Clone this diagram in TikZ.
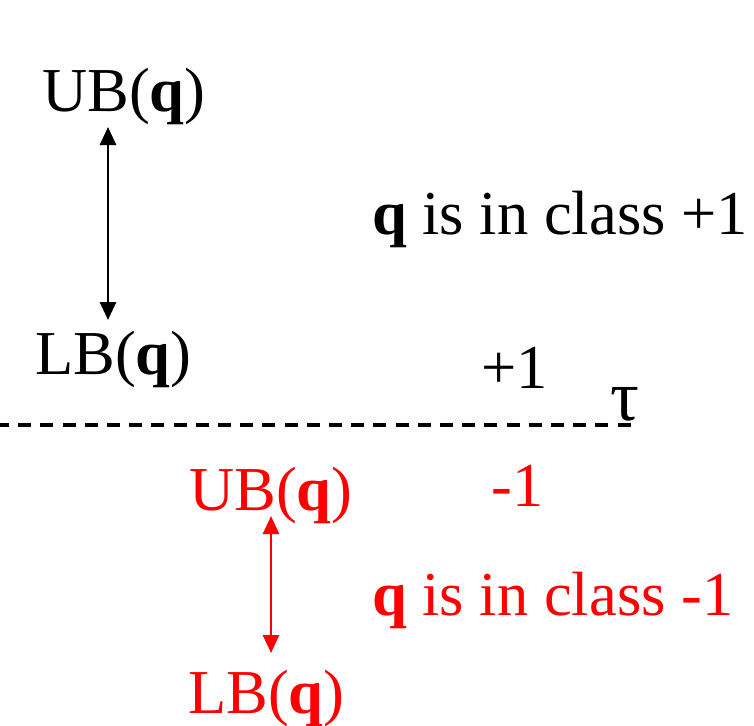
\documentclass[tikz,border=0pt]{standalone}
\usepackage{fontspec}
\setmainfont{Liberation Serif}
\usetikzlibrary{arrows.meta}
\definecolor{pred}{RGB}{255,0,0}
\tikzset{
  lbl/.style={anchor=base west, inner sep=0pt, font=\fontsize{62.5}{70}\selectfont},
  dbl/.style={line width=2.6pt, {Triangle[length=18pt,width=16pt]}-{Triangle[length=18pt,width=16pt]}},
  thresh/.style={line width=3.4pt, dash pattern=on 13pt off 9.2pt}
}
\begin{document}
\begin{tikzpicture}[x=1pt,y=-1pt]
\useasboundingbox (0,0) rectangle (754,725);
% black (class +1)
\node[lbl] (ub1) at (42,111) {UB(\textbf{q})};
\node[lbl] (lb1) at (35,374) {LB(\textbf{q})};
\coordinate (a1t) at (108,127);
\coordinate (a1b) at (108,320);
\draw[dbl] (a1t) -- (a1b);
\node[lbl] (c1) at (372,234) {\textbf{q} is in class +1};
\node[lbl] (p1) at (481,388) {+1};
\node[lbl, font=\fontsize{72}{80}\selectfont] (tau) at (610,420) {τ};
% threshold
\coordinate (dl) at (-4,425);
\coordinate (dr) at (632,425);
\draw[thresh] (dl) -- (dr);
% red (class -1)
\node[lbl, text=pred] (ub2) at (189,510) {UB(\textbf{q})};
\node[lbl, text=pred] (lb2) at (188,713) {LB(\textbf{q})};
\coordinate (a2t) at (271,516);
\coordinate (a2b) at (271,653);
\draw[dbl, pred] (a2t) -- (a2b);
\node[lbl, text=pred] (c2) at (372,615) {\textbf{q} is in class -1};
\node[lbl, text=pred] (m1) at (491,506) {-1};
\end{tikzpicture}
\end{document}
